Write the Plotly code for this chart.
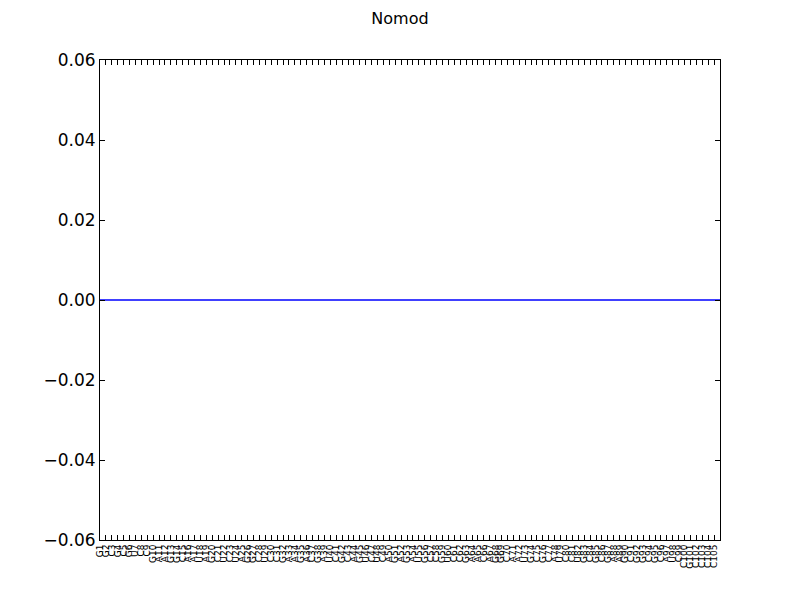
import plotly.graph_objects as go

title = "Nomod"
sequence = ("GGCGCGUCCG" "AAGGCAAUAG" "CUCUAGGCUC" "CGAAGACGAU" "CGCAGUCUCA"
            "GAGAUGCCGU" "CCGAACAGGC" "AAUGCGCAUC" "CUGCGCGAAG" "CGGCGCAUCC" "GCCCC")
tick_labels = [f"{c}{i + 1}" for i, c in enumerate(sequence)]
values = [0.0, 0.0, 0.0, 0.0, 0.0, 0.0, 0.0, 0.0, 0.0, 0.0,
          0.0, 0.0, 0.0, 0.0, 0.0, 0.0, 0.0, 0.0, 0.0, 0.0,
          0.0, 0.0, 0.0, 0.0, 0.0, 0.0, 0.0, 0.0, 0.0, 0.0,
          0.0, 0.0, 0.0, 0.0, 0.0, 0.0, 0.0, 0.0, 0.0, 0.0,
          0.0, 0.0, 0.0, 0.0, 0.0, 0.0, 0.0, 0.0, 0.0, 0.0,
          0.0, 0.0, 0.0, 0.0, 0.0, 0.0, 0.0, 0.0, 0.0, 0.0,
          0.0, 0.0, 0.0, 0.0, 0.0, 0.0, 0.0, 0.0, 0.0, 0.0,
          0.0, 0.0, 0.0, 0.0, 0.0, 0.0, 0.0, 0.0, 0.0, 0.0,
          0.0, 0.0, 0.0, 0.0, 0.0, 0.0, 0.0, 0.0, 0.0, 0.0,
          0.0, 0.0, 0.0, 0.0, 0.0, 0.0, 0.0, 0.0, 0.0, 0.0,
          0.0, 0.0, 0.0, 0.0, 0.0, 0.0]
y_ticks = [-0.06, -0.04, -0.02, 0.0, 0.02, 0.04, 0.06]

x_pos = list(range(len(values)))
tick_pos = list(range(len(tick_labels)))

fig = go.Figure()
fig.add_trace(go.Scatter(x=x_pos, y=values, mode="lines",
                         line=dict(color="#0000ff", width=1.6), showlegend=False))

font = "DejaVu Sans, sans-serif"
fig.update_layout(
    width=800, height=600,
    margin=dict(l=100, r=80, t=60, b=60, autoexpand=False),
    paper_bgcolor="white", plot_bgcolor="white",
    title=dict(text=title, x=0.5, xanchor="center", y=0.97, yanchor="middle",
               font=dict(family=font, size=16, color="black")),
    font=dict(family=font, color="black"),
    xaxis=dict(range=[0, len(tick_labels)], tickmode="array", tickvals=tick_pos,
               ticktext=tick_labels, tickangle=-90, tickfont=dict(size=9),
               ticks="inside", ticklen=5, tickcolor="black", showgrid=False,
               zeroline=False, showline=True, linecolor="black", linewidth=1,
               mirror="ticks", automargin=False),
    yaxis=dict(range=[-0.06, 0.06], tickmode="array", tickvals=y_ticks,
               ticktext=[f"{v:.2f}".replace("-", "\u2212") for v in y_ticks],
               tickfont=dict(size=17), ticks="inside", ticklen=5, tickcolor="black",
               showgrid=False, zeroline=False, showline=True, linecolor="black",
               linewidth=1, mirror="ticks", automargin=False),
)

fig.write_html("out.html")
